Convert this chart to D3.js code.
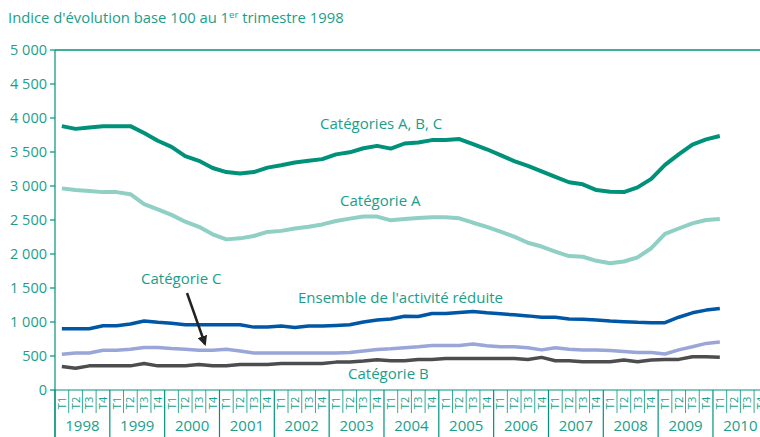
<!DOCTYPE html>
<html>
<head>
<meta charset="utf-8">
<script src="https://cdn.jsdelivr.net/npm/d3@7"></script>
<style>
  body { margin: 0; background: #fff; }
  svg { display: block; font-family: "Open Sans", sans-serif; }
  .teal { fill: #1a9e8a; }
</style>
</head>
<body>
<svg id="chart" width="760" height="437"></svg>
<script>
// quarterly index values, 1998 T1 .. 2010 T1
var years = ["1998", "1999", "2000", "2001", "2002", "2003", "2004", "2005", "2006", "2007", "2008", "2009", "2010"];
var quarterNames = ["T1", "T2", "T3", "T4"];
var yTicks = [0, 500, 1000, 1500, 2000, 2500, 3000, 3500, 4000, 4500, 5000];

var catABC = [3880, 3840, 3860, 3880, 3880, 3880, 3780, 3665, 3575, 3440, 3370, 3265, 3205, 3185, 3205, 3270,
  3305, 3345, 3370, 3395, 3465, 3495, 3555, 3590, 3550, 3625, 3640, 3675, 3675, 3690, 3615, 3540,
  3455, 3365, 3295, 3215, 3135, 3055, 3025, 2940, 2915, 2910, 2980, 3105, 3310, 3465, 3610, 3685, 3735];
var catA = [2965, 2940, 2925, 2910, 2910, 2880, 2735, 2655, 2575, 2475, 2400, 2290, 2215, 2230, 2265, 2325,
  2340, 2375, 2400, 2435, 2485, 2520, 2550, 2550, 2495, 2515, 2530, 2540, 2540, 2525, 2460, 2400,
  2330, 2255, 2165, 2110, 2035, 1970, 1960, 1900, 1865, 1890, 1950, 2085, 2295, 2375, 2450, 2500, 2515];
var ensemble = [900, 900, 900, 945, 945, 970, 1015, 995, 980, 960, 960, 960, 960, 960, 925, 925,
  940, 920, 940, 940, 950, 960, 1000, 1030, 1045, 1085, 1080, 1125, 1125, 1140, 1155, 1135,
  1120, 1105, 1090, 1070, 1070, 1045, 1040, 1030, 1015, 1005, 995, 990, 990, 1070, 1135, 1175, 1200];
var catC = [525, 545, 545, 585, 585, 600, 625, 625, 610, 600, 585, 585, 600, 575, 545, 545,
  545, 545, 545, 545, 545, 550, 575, 595, 605, 620, 635, 655, 655, 655, 675, 650,
  635, 635, 620, 590, 620, 600, 590, 590, 580, 565, 550, 550, 530, 590, 635, 685, 705];
var catB = [345, 320, 355, 355, 355, 355, 390, 355, 355, 355, 375, 355, 355, 375, 375, 375,
  390, 390, 390, 390, 410, 410, 425, 445, 430, 430, 450, 450, 465, 465, 465, 465,
  465, 465, 450, 480, 430, 430, 415, 415, 415, 440, 415, 440, 450, 450, 490, 490, 480];

var series = [
  { values: catB, color: "#4d4d4f", width: 3.5 },
  { values: catC, color: "#99a6d7", width: 3.5 },
  { values: ensemble, color: "#0057a6", width: 3.5 },
  { values: catA, color: "#8fcfc4", width: 4 },
  { values: catABC, color: "#00917a", width: 4 }
];

var labels = [
  { text: "Catégories A, B, C", x: 320, y: 129 },
  { text: "Catégorie A", x: 340, y: 206 },
  { text: "Catégorie C", x: 141, y: 284 },
  { text: "Ensemble de l'activité réduite", x: 298, y: 303 },
  { text: "Catégorie B", x: 348, y: 379 }
];

var axisColor = "#00937c";
var svg = d3.select("#chart");
var marginLeft = 55, plotTop = 50, plotBottom = 390, qw = 54.83 / 4;
var nq = years.length * 4;

var x = d3.scaleLinear().domain([0, nq]).range([marginLeft, marginLeft + nq * qw]);
var y = d3.scaleLinear().domain([0, 5000]).range([plotBottom, plotTop]);

// title
var title = svg.append("text").attr("class", "teal").attr("x", 8).attr("y", 23).style("font-size", "14.8px");
title.append("tspan").text("Indice d'évolution base 100 au 1");
title.append("tspan").text("er").attr("dy", -5).style("font-size", "9.5px");
title.append("tspan").text(" trimestre 1998").attr("dy", 5);

// frame
svg.append("line").attr("x1", marginLeft).attr("x2", 760).attr("y1", plotTop).attr("y2", plotTop)
  .attr("stroke", axisColor).attr("stroke-width", 1.5);
svg.append("line").attr("x1", marginLeft).attr("x2", 760).attr("y1", plotBottom).attr("y2", plotBottom)
  .attr("stroke", axisColor).attr("stroke-width", 1.2);
svg.append("line").attr("x1", marginLeft).attr("x2", marginLeft).attr("y1", plotTop).attr("y2", 437)
  .attr("stroke", axisColor).attr("stroke-width", 1.2);

// y axis ticks and labels
var yAxis = svg.append("g");
yAxis.selectAll("line").data(yTicks).enter().append("line")
  .attr("x1", marginLeft - 5).attr("x2", marginLeft)
  .attr("y1", function(d) { return y(d); }).attr("y2", function(d) { return y(d); })
  .attr("stroke", axisColor).attr("stroke-width", 1.2);
yAxis.selectAll("text").data(yTicks).enter().append("text")
  .attr("class", "teal").attr("x", marginLeft - 8).attr("y", function(d) { return y(d); })
  .attr("dy", "0.36em").attr("text-anchor", "end").style("font-size", "14.5px")
  .text(function(d) { return d3.format(",")(d).replace(/,/g, " "); });

// quarter cells
var quarters = d3.range(nq);
svg.selectAll(".qsep").data(quarters).enter().append("line")
  .attr("x1", function(d) { return x(d); }).attr("x2", function(d) { return x(d); })
  .attr("y1", plotBottom).attr("y2", function(d) { return d % 4 === 0 ? 437 : 413; })
  .attr("stroke", axisColor).attr("stroke-width", function(d) { return d % 4 === 0 ? 1.2 : 0.8; });
svg.selectAll(".qlab").data(quarters).enter().append("text")
  .attr("class", "teal")
  .attr("transform", function(d) { return "translate(" + (x(d + 0.5) + 4) + ",403) rotate(-90)"; })
  .attr("text-anchor", "middle").style("font-size", "11px")
  .text(function(d) { return quarterNames[d % 4]; });
svg.selectAll(".ylab").data(years).enter().append("text")
  .attr("class", "teal").attr("x", function(d, i) { return x(i * 4 + 2); }).attr("y", 431)
  .attr("text-anchor", "middle").style("font-size", "15px")
  .text(function(d) { return d; });

// lines
var line = d3.line().x(function(d, i) { return x(i + 0.5); }).y(function(d) { return y(d); });
series.forEach(function(s) {
  svg.append("path").datum(s.values).attr("d", line)
    .attr("fill", "none").attr("stroke", s.color).attr("stroke-width", s.width)
    .attr("stroke-linejoin", "round");
});

// series labels
svg.selectAll(".slab").data(labels).enter().append("text")
  .attr("class", "teal").attr("x", function(d) { return d.x; }).attr("y", function(d) { return d.y; })
  .style("font-size", "15px").text(function(d) { return d.text; });

// arrow pointing at Catégorie C
svg.append("defs").append("marker").attr("id", "head")
  .attr("viewBox", "0 0 10 10").attr("refX", 8).attr("refY", 5)
  .attr("markerWidth", 4).attr("markerHeight", 4).attr("orient", "auto")
  .append("path").attr("d", "M0,0L10,5L0,10z").attr("fill", "#222");
svg.append("line").attr("x1", 187).attr("y1", 293).attr("x2", 205).attr("y2", 344)
  .attr("stroke", "#222").attr("stroke-width", 2.5).attr("marker-end", "url(#head)");
</script>
</body>
</html>
